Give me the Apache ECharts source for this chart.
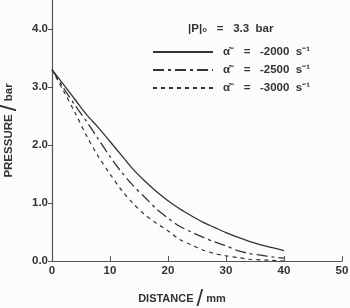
<!DOCTYPE html>
<html><head><meta charset="utf-8">
<script src="https://cdn.jsdelivr.net/npm/echarts@6/dist/echarts.min.js"></script>
<style>html,body{margin:0;padding:0;background:#fcfcfa;}#c{width:350px;height:308px;}</style>
</head><body><div id="c"></div>
<script>
const distance = [0,2,4,6,8,10,12,14,16,18,20,22,24,26,28,30,32,34,36,38,40];
const p2000 = [3.3,3.04,2.78,2.52,2.3,2.06,1.82,1.58,1.38,1.2,1.04,0.9,0.78,0.67,0.58,0.49,0.41,0.34,0.28,0.23,0.18];
const p2500 = [3.3,2.98,2.68,2.4,2.1,1.8,1.53,1.3,1.1,0.9,0.74,0.6,0.5,0.41,0.33,0.26,0.18,0.13,0.1,0.07,0.05];
const p3000 = [3.3,2.93,2.55,2.15,1.8,1.5,1.22,0.99,0.8,0.65,0.52,0.37,0.28,0.19,0.13,0.09,0.06,0.03,0.02,0.01,0.0];
const seriesNames = ['α̇⁻   =   -2000  s⁻¹','α̇⁻   =   -2500  s⁻¹','α̇⁻   =   -3000  s⁻¹'];
const headerText = '|P|₀   =   3.3  bar';
const xTitle = 'DISTANCE', xUnit = 'mm', yTitle = 'PRESSURE', yUnit = 'bar';

const FONT = 'Liberation Sans';
const INK = '#333';
function pts(arr){ return distance.map((d,i)=>[d, arr[i]]); }
const chart = echarts.init(document.getElementById('c'), null, {renderer:'canvas'});
const lineBase = {type:'line', symbol:'none', showSymbol:false, smooth:0.3, silent:true, animation:false};
chart.setOption({
  backgroundColor:'#fcfcfa',
  animation:false,
  title:{text:headerText, left:188, top:23, padding:0,
    textStyle:{fontFamily:FONT, fontWeight:'bold', fontSize:11.5, color:INK}},
  legend:{orient:'vertical', left:152, top:46, padding:0, itemWidth:60, itemHeight:11, itemGap:6,
    itemStyle:{opacity:0},
    textStyle:{fontFamily:FONT, fontWeight:'bold', fontSize:11.5, color:INK, padding:[0,0,0,5]},
    data:seriesNames},
  grid:{left:52, right:8, top:0, bottom:47, containLabel:false, outerBoundsMode:'none'},
  xAxis:{type:'value', min:0, max:50, interval:10,
    axisLine:{lineStyle:{color:'#555', width:1.2}},
    axisTick:{inside:true, length:5, lineStyle:{color:'#555'}},
    splitLine:{show:false},
    axisLabel:{margin:4, fontFamily:FONT, fontWeight:'bold', fontSize:11.5, color:INK},
    name:xTitle+' {sl|/} '+xUnit, nameLocation:'middle', nameGap:26,
    nameTextStyle:{fontFamily:FONT, fontWeight:'bold', fontSize:11, color:INK, padding:[0,30,0,0],
      rich:{sl:{fontSize:24, fontWeight:'normal', fontFamily:FONT, color:INK}}}},
  yAxis:{type:'value', min:0, max:4.5, interval:1,
    axisLine:{show:true, lineStyle:{color:'#555', width:1.2}},
    axisTick:{show:true, inside:false, length:4, lineStyle:{color:'#555'}},
    splitLine:{show:false},
    axisLabel:{margin:4, showMaxLabel:false, fontFamily:FONT, fontWeight:'bold', fontSize:11.5, color:INK,
      formatter:v=> (Math.abs(v-Math.round(v))<1e-9 ? v.toFixed(1) : '')},
    name:yTitle+' {sl|/} '+yUnit, nameLocation:'middle', nameGap:25,
    nameTextStyle:{fontFamily:FONT, fontWeight:'bold', fontSize:11.5, color:INK,
      rich:{sl:{fontSize:24, fontWeight:'normal', fontFamily:FONT, color:INK}}}},
  series:[
    Object.assign({}, lineBase, {name:seriesNames[0], data:pts(p2000),
      lineStyle:{color:'#333', width:1.3, type:'solid'}, itemStyle:{color:'#333'}}),
    Object.assign({}, lineBase, {name:seriesNames[1], data:pts(p2500),
      lineStyle:{color:'#333', width:1.3, type:[11,4,3,4]}, itemStyle:{color:'#333'}}),
    Object.assign({}, lineBase, {name:seriesNames[2], data:pts(p3000),
      lineStyle:{color:'#333', width:1.2, type:[4,4]}, itemStyle:{color:'#333'}})
  ]
});
</script></body></html>
